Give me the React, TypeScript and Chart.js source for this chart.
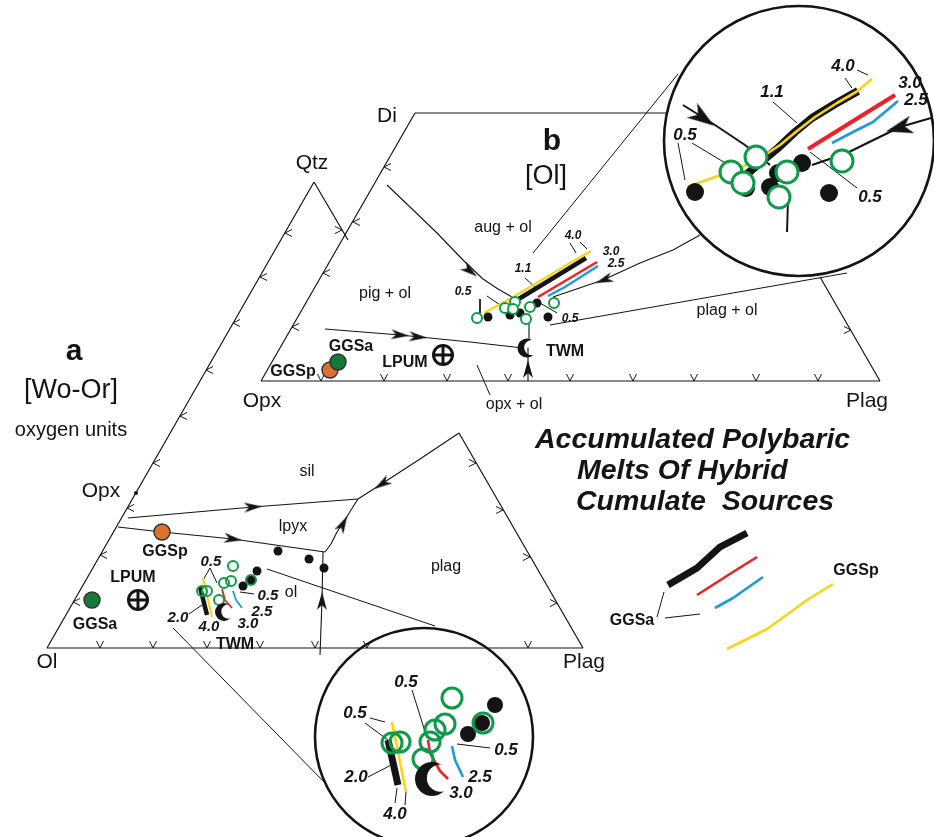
import React, { useEffect, useRef } from "react";
import { Chart, registerables } from "chart.js";

Chart.register(...registerables);

type P = [number, number];
type L = [string, number, number];
type A = [number, number, number];

// ================= Triangle a  (Ol - Plag - Qtz, [Wo-Or]) =================
const triA_left: P[] = [[314, 182], [47, 648]];
const triA_base: P[] = [[47, 648], [583, 648]];
const triA_rightUpper: P[] = [[314, 182], [348, 240]];
const triA_rightLower: P[] = [[459, 433], [583, 648]];
const triA_ticksLeft: P[] = [[285, 233], [260, 277], [233, 323], [206, 370], [180, 416], [153, 463], [127, 508], [100, 555], [73, 602]];
const triA_ticksRight: P[] = [[342, 230], [476, 463], [503, 510], [530, 557], [557, 603]];
const triA_ticksBase: P[] = [[100, 648], [153, 648], [207, 648], [260, 648], [315, 648], [367, 648], [528, 648]];

const a_silLpyx: P[] = [[128, 518], [253, 507], [358, 499]];
const a_lpyxOl: P[] = [[118, 527], [162, 532], [233, 539], [325, 552]];
const a_lpyxPlag: P[] = [[325, 552], [331, 544], [337, 532], [345, 520], [351, 510], [358, 499]];
const a_silPlag: P[] = [[358, 499], [380, 485], [420, 459], [459, 433]];
const a_olPlag: P[] = [[320, 655], [322, 600], [323, 552]];
const a_arrows: A[] = [[253, 507, -4], [233, 539, 8], [343, 524, -62], [382, 484, 147], [322, 601, -89]];
const a_calloutUpper: P[] = [[267, 569], [435, 626]];
const a_calloutLower: P[] = [[173, 628], [327, 785]];
const a_opxPoint: P[] = [[136, 493]];

const a_meltDots: P[] = [[278, 551], [309, 559], [324, 568], [257, 571], [243, 586], [251, 580]];
const a_meltRings: P[] = [[233, 566], [231, 581], [224, 583], [219, 600], [202, 591], [207, 591], [251, 580]];
const a_GGSaPath: P[] = [[200, 587], [207, 615]];
const a_GGSpPath: P[] = [[203, 578], [212, 617]];
const a_redPath: P[] = [[222, 589], [225, 600], [232, 608]];
const a_bluePath: P[] = [[233, 591], [236, 600], [242, 608]];
const a_GGSa: P[] = [[92, 600]];
const a_GGSp: P[] = [[162, 532]];
const a_LPUM: P[] = [[138, 600]];
const a_TWM: P[] = [[224, 612]];
const a_leaders: P[][] = [
  [[210, 568], [203, 580]],
  [[210, 568], [217, 583]],
  [[240, 592], [254, 594]],
  [[189, 614], [202, 605]],
];

// ================= Triangle b  (Opx - Plag - Di, [Ol]) =================
const triB_left: P[] = [[415, 113], [261, 381]];
const triB_base: P[] = [[261, 381], [880, 381]];
const triB_top: P[] = [[415, 113], [666, 113]];
const triB_right: P[] = [[820, 277], [880, 381]];
const triB_ticksLeft: P[] = [[384, 167], [353, 222], [323, 273], [292, 327]];
const triB_ticksBase: P[] = [[321, 381], [384, 381], [447, 381], [508, 381], [570, 381], [633, 381], [694, 381], [756, 381], [818, 381]];
const triB_ticksRight: P[] = [[851, 330]];

const b_augPig: P[] = [[387, 185], [410, 207], [437, 233], [463, 260], [483, 279], [498, 289], [512, 297]];
const b_pigOpx: P[] = [[325, 329], [400, 335], [470, 342], [523, 348]];
const b_twmDown: P[] = [[528, 348], [528, 381]];
const b_clusterDown: P[] = [[529, 314], [529, 340]];
const b_plagCurve: P[] = [[553, 297], [603, 280], [640, 263], [673, 250], [700, 235]];
const b_arrows: A[] = [[470, 271, 38], [400, 335, 5], [418, 337, 5], [528, 369, -90], [604, 280, 160]];
const b_calloutUpper: P[] = [[533, 253], [678, 74]];
const b_calloutLower: P[] = [[550, 325], [847, 273]];
const b_opxOlLeader: P[] = [[477, 365], [490, 395]];

const b_meltDots: P[] = [[488, 317], [510, 315], [520, 313], [537, 303], [548, 317]];
const b_meltRings: P[] = [[477, 318], [505, 308], [515, 302], [513, 309], [530, 307], [526, 319], [554, 303]];
const b_GGSpPath: P[] = [[484, 313], [515, 296], [545, 278], [570, 263], [591, 251]];
const b_GGSaPath: P[] = [[517, 300], [545, 283], [568, 269], [586, 258]];
const b_redPath: P[] = [[538, 297], [597, 262]];
const b_bluePath: P[] = [[548, 296], [565, 287], [598, 266]];
const b_GGSa: P[] = [[338, 362]];
const b_GGSp: P[] = [[330, 370]];
const b_LPUM: P[] = [[443, 355]];
const b_TWM: P[] = [[527, 348]];
const b_leaders: P[][] = [
  [[480, 299], [480, 313]],
  [[487, 296], [503, 307]],
  [[525, 278], [535, 287]],
  [[570, 243], [576, 253]],
  [[580, 242], [587, 249]],
  [[540, 303], [557, 313]],
];

// ================= Enlarged inset (top right) =================
const topInset: P[] = [[799, 141]];
const top_GGSpPath: P[] = [[687, 187], [715, 177], [742, 167], [762, 157], [780, 145], [797, 131], [815, 117], [837, 103], [856, 92], [872, 79]];
const top_GGSaPath: P[] = [[740, 180], [760, 163], [778, 148], [795, 132], [812, 118], [835, 104], [858, 91]];
const top_redPath: P[] = [[808, 149], [895, 95]];
const top_bluePath: P[] = [[832, 143], [855, 131], [873, 122], [898, 101]];
const top_cotecticLeft: P[] = [[683, 105], [715, 125], [745, 145], [770, 165]];
const top_cotecticRight: P[] = [[931, 118], [900, 127], [847, 153], [812, 165]];
const top_stem: P[] = [[788, 200], [787, 232]];
const top_arrows: A[] = [[703, 118, 35], [899, 128, 165]];
const top_meltDots: P[] = [[695, 192], [746, 188], [770, 187], [802, 163], [829, 193], [778, 173]];
const top_meltRings: P[] = [[731, 172], [756, 157], [743, 183], [787, 172], [779, 197], [842, 161]];
const top_leaders: P[][] = [
  [[678, 143], [685, 180]],
  [[692, 143], [732, 167]],
  [[773, 102], [797, 123]],
  [[845, 78], [852, 88]],
  [[857, 70], [868, 75]],
  [[810, 152], [857, 188]],
];

// ================= Enlarged inset (bottom) =================
const bottomInset: P[] = [[424, 737]];
const bot_GGSpPath: P[] = [[392, 722], [406, 792]];
const bot_GGSaPath: P[] = [[388, 740], [398, 785]];
const bot_redPath: P[] = [[428, 740], [430, 753], [440, 771], [448, 779]];
const bot_bluePath: P[] = [[452, 746], [455, 760], [463, 777]];
const bot_meltDots: P[] = [[495, 705], [482, 723], [468, 734]];
const bot_meltRings: P[] = [[392, 743], [400, 742], [430, 742], [435, 730], [445, 724], [423, 759], [452, 698], [483, 723]];
const bot_TWM: P[] = [[432, 779]];
const bot_leaders: P[][] = [
  [[370, 718], [385, 722]],
  [[365, 723], [388, 740]],
  [[412, 690], [427, 738]],
  [[457, 744], [490, 748]],
  [[368, 777], [395, 763]],
  [[397, 788], [395, 803]],
  [[406, 792], [405, 805]],
];

// ================= Key =================
const key_GGSa: P[] = [[668, 585], [697, 568], [720, 547], [747, 533]];
const key_red: P[] = [[697, 595], [733, 572], [757, 557]];
const key_blue: P[] = [[715, 608], [733, 598], [763, 577]];
const key_GGSp: P[] = [[727, 649], [767, 629], [810, 598], [833, 584]];
const key_leaders: P[][] = [
  [[657, 617], [664, 592]],
  [[665, 618], [700, 614]],
];

// ================= Text =================
const vertexLabels: L[] = [["Qtz", 312, 163], ["Di", 387, 116], ["Opx", 262, 401], ["Plag", 867, 401], ["Opx", 101, 491], ["Ol", 47, 662], ["Plag", 584, 662]];
const panelLetters: L[] = [["a", 74, 352], ["b", 552, 142]];
const panelSubtitles: L[] = [["[Wo-Or]", 71, 391], ["[Ol]", 546, 177]];
const unitsNote: L[] = [["oxygen units", 71, 430]];
const fieldLabels: L[] = [["aug + ol", 503, 228], ["pig + ol", 385, 294], ["plag + ol", 727, 311], ["opx + ol", 514, 405], ["sil", 307, 472], ["lpyx", 293, 527], ["ol", 291, 593], ["plag", 446, 567]];
const sampleLabels: L[] = [["GGSp", 293, 372], ["GGSa", 351, 347], ["LPUM", 405, 363], ["TWM", 565, 352], ["GGSa", 95, 625], ["LPUM", 133, 578], ["GGSp", 165, 552], ["TWM", 235, 645], ["GGSa", 632, 621], ["GGSp", 856, 571]];
const pressureSmall: L[] = [["0.5", 463, 292], ["1.1", 523, 269], ["4.0", 573, 236], ["3.0", 611, 252], ["2.5", 616, 264], ["0.5", 570, 319]];
const pressureMid: L[] = [["0.5", 211, 562], ["0.5", 268, 596], ["2.5", 262, 612], ["3.0", 248, 624], ["4.0", 209, 627], ["2.0", 178, 618]];
const pressureLarge: L[] = [["0.5", 685, 135], ["1.1", 772, 92], ["4.0", 843, 66], ["3.0", 910, 83], ["2.5", 916, 100], ["0.5", 870, 197], ["0.5", 355, 713], ["0.5", 406, 682], ["0.5", 506, 750], ["2.0", 356, 777], ["2.5", 480, 777], ["3.0", 461, 793], ["4.0", 395, 814]];
const titleLines: L[] = [["Accumulated Polybaric", 535, 448], ["Melts Of Hybrid", 577, 479], ["Cumulate  Sources", 576, 510]];

// ================= styles =================
const INK = "#141414";
const GREEN = "#0e9a4a";
const DARKGREEN = "#137a3a";
const ORANGE = "#dc7230";
const RED = "#ec2227";
const BLUE = "#1b9bd7";
const YELLOW = "#f6d416";
const FONT = "'Liberation Sans', Arial, Helvetica, sans-serif";

function mk(w: number, h: number): [HTMLCanvasElement, CanvasRenderingContext2D] {
  const c = document.createElement("canvas");
  c.width = w;
  c.height = h;
  return [c, c.getContext("2d")!];
}
function chevron(len: number, spread: number) {
  const s = Math.ceil(len) + 2;
  const [c, g] = mk(2 * s, 2 * s);
  g.strokeStyle = INK;
  g.lineWidth = 1;
  g.beginPath();
  g.moveTo(s - len, s - spread);
  g.lineTo(s, s);
  g.lineTo(s - len, s + spread);
  g.stroke();
  return c;
}
function arrowHead(len: number, half: number) {
  const w = len + 2, h = 2 * half + 2;
  const [c, g] = mk(w, h);
  g.fillStyle = INK;
  g.beginPath();
  g.moveTo(w - 1, h / 2);
  g.lineTo(1, 1);
  g.lineTo(1 + len * 0.28, h / 2);
  g.lineTo(1, h - 1);
  g.closePath();
  g.fill();
  return c;
}
function crescent(r: number) {
  const s = Math.ceil(r) + 2;
  const [c, g] = mk(2 * s, 2 * s);
  g.fillStyle = INK;
  g.beginPath();
  g.arc(s, s, r, 0, Math.PI * 2);
  g.fill();
  g.globalCompositeOperation = "destination-out";
  g.beginPath();
  g.arc(s + r * 0.5, s - r * 0.05, r * 0.8, 0, Math.PI * 2);
  g.fill();
  return c;
}
function circlePlus(r: number) {
  const s = Math.ceil(r) + 3;
  const [c, g] = mk(2 * s, 2 * s);
  g.strokeStyle = INK;
  g.lineWidth = 3;
  g.beginPath();
  g.arc(s, s, r - 1.5, 0, Math.PI * 2);
  g.moveTo(s - r + 1.5, s);
  g.lineTo(s + r - 1.5, s);
  g.moveTo(s, s - r + 1.5);
  g.lineTo(s, s + r - 1.5);
  g.stroke();
  return c;
}

const xy = (pts: P[]) => pts.map(([x, y]) => ({ x, y }));

function buildDatasets() {
  const ds: any[] = [];
  const line = (pts: P[], color: string, width: number, order: number) =>
    ds.push({
      data: xy(pts),
      showLine: true,
      borderColor: color,
      borderWidth: width,
      pointRadius: 0,
      fill: false,
      tension: 0,
      borderCapStyle: "butt",
      borderJoinStyle: "round",
      order,
      clip: false,
    });
  const dots = (pts: P[], radius: number, fillC: string, stroke: string, bw: number, order: number) =>
    ds.push({
      data: xy(pts),
      showLine: false,
      pointStyle: "circle",
      pointRadius: radius,
      backgroundColor: fillC,
      borderColor: stroke,
      borderWidth: bw,
      order,
      clip: false,
    });
  const marks = (pts: P[], img: HTMLCanvasElement, rot: number | number[], order: number) =>
    ds.push({
      data: xy(pts),
      showLine: false,
      pointStyle: img,
      pointRadius: 4,
      pointRotation: (c: any) => (Array.isArray(rot) ? rot[c.dataIndex] : rot),
      order,
      clip: false,
    });
  const arrows = (list: A[], img: HTMLCanvasElement, order: number) =>
    marks(list.map(([x, y]) => [x, y] as P), img, list.map((a) => a[2]), order);

  const chev = chevron(7, 3.5);
  const arrowSmall = arrowHead(18, 5);
  const arrowBig = arrowHead(27, 9);

  // inset frames
  dots(topInset, 135, "#ffffff", INK, 2.6, 60);
  dots(bottomInset, 109, "rgba(255,255,255,0)", INK, 2.6, 60);

  // triangle edges
  [triA_left, triA_base, triA_rightUpper, triA_rightLower, triB_left, triB_base, triB_top, triB_right].forEach((p) => line(p, INK, 1.2, 50));
  marks(triA_ticksLeft, chev, 180, 49);
  marks(triB_ticksLeft, chev, 180, 49);
  marks(triA_ticksRight, chev, 0, 49);
  marks(triB_ticksRight, chev, 0, 49);
  marks(triA_ticksBase, chev, 90, 49);
  marks(triB_ticksBase, chev, 90, 49);

  // cotectics & callouts
  [a_silLpyx, a_lpyxOl, a_lpyxPlag, a_silPlag, a_olPlag, b_augPig, b_pigOpx, b_twmDown, b_clusterDown, b_plagCurve].forEach((p) => line(p, INK, 1.1, 40));
  [a_calloutUpper, a_calloutLower, b_calloutUpper, b_calloutLower, b_opxOlLeader].forEach((p) => line(p, INK, 1, 40));
  [top_cotecticLeft, top_cotecticRight, top_stem].forEach((p) => line(p, INK, 2, 40));
  [...a_leaders, ...b_leaders, ...top_leaders, ...bot_leaders, ...key_leaders].forEach((p) => line(p, INK, 1, 40));
  arrows(a_arrows, arrowSmall, 3);
  arrows(b_arrows, arrowSmall, 3);
  arrows(top_arrows, arrowBig, 3);
  dots(a_opxPoint, 2, INK, INK, 0, 3);

  // melt paths
  line(a_GGSaPath, INK, 4.5, 20);
  line(b_GGSaPath, INK, 4.5, 20);
  line(top_GGSaPath, INK, 8, 20);
  line(bot_GGSaPath, INK, 7, 20);
  line(key_GGSa, INK, 7, 20);
  line(a_GGSpPath, YELLOW, 2, 19);
  line(b_GGSpPath, YELLOW, 2.2, 19);
  line(top_GGSpPath, YELLOW, 2.6, 19);
  line(bot_GGSpPath, YELLOW, 2.6, 19);
  line(key_GGSp, YELLOW, 2.6, 19);
  line(a_redPath, RED, 1.8, 19);
  line(b_redPath, RED, 2.5, 19);
  line(top_redPath, RED, 4, 19);
  line(bot_redPath, RED, 2.6, 19);
  line(key_red, RED, 2.6, 19);
  line(a_bluePath, BLUE, 1.8, 19);
  line(b_bluePath, BLUE, 2.3, 19);
  line(top_bluePath, BLUE, 2.6, 19);
  line(bot_bluePath, BLUE, 2.6, 19);
  line(key_blue, BLUE, 2.6, 19);

  // melts
  dots(a_meltDots, 4.5, INK, INK, 0, 10);
  dots(b_meltDots, 4.5, INK, INK, 0, 10);
  dots(top_meltDots, 9, INK, INK, 0, 10);
  dots(bot_meltDots, 8, INK, INK, 0, 10);
  dots(a_meltRings, 5, "rgba(255,255,255,0)", GREEN, 2, 9);
  dots(b_meltRings, 5, "#ffffff", GREEN, 2, 9);
  dots(top_meltRings, 11, "#ffffff", GREEN, 3, 9);
  dots(bot_meltRings, 10, "rgba(255,255,255,0)", GREEN, 3, 9);

  // sources
  dots(a_GGSp, 8, ORANGE, "#333", 1.5, 6);
  dots(b_GGSp, 8, ORANGE, "#333", 1.5, 6);
  dots(a_GGSa, 8, DARKGREEN, "#333", 1.5, 5);
  dots(b_GGSa, 8, DARKGREEN, "#333", 1.5, 5);
  const plus = circlePlus(11);
  marks(a_LPUM, plus, 0, 5);
  marks(b_LPUM, plus, 0, 5);
  marks(a_TWM, crescent(9), 0, 5);
  marks(b_TWM, crescent(9.5), 0, 5);
  marks(bot_TWM, crescent(17), 0, 5);
  return ds;
}

const textGroups: { items: L[]; font: string; baseline: CanvasTextBaseline; align: CanvasTextAlign }[] = [
  { items: vertexLabels, font: `21px ${FONT}`, baseline: "middle", align: "center" },
  { items: panelLetters, font: `bold 30px ${FONT}`, baseline: "middle", align: "center" },
  { items: panelSubtitles, font: `27px ${FONT}`, baseline: "middle", align: "center" },
  { items: unitsNote, font: `20px ${FONT}`, baseline: "middle", align: "center" },
  { items: fieldLabels, font: `16px ${FONT}`, baseline: "middle", align: "center" },
  { items: sampleLabels, font: `bold 16px ${FONT}`, baseline: "middle", align: "center" },
  { items: pressureSmall, font: `italic bold 12px ${FONT}`, baseline: "middle", align: "center" },
  { items: pressureMid, font: `italic bold 15px ${FONT}`, baseline: "middle", align: "center" },
  { items: pressureLarge, font: `italic bold 17px ${FONT}`, baseline: "middle", align: "center" },
  { items: titleLines, font: `italic bold 28.5px ${FONT}`, baseline: "alphabetic", align: "left" },
];

const textPlugin = {
  id: "diagramText",
  afterDatasetsDraw(chart: any) {
    const { ctx } = chart;
    const sx = chart.scales.x;
    const sy = chart.scales.y;
    ctx.save();
    ctx.fillStyle = INK;
    for (const g of textGroups) {
      ctx.font = g.font;
      ctx.textAlign = g.align;
      ctx.textBaseline = g.baseline;
      for (const [t, x, y] of g.items) ctx.fillText(t, sx.getPixelForValue(x), sy.getPixelForValue(y));
    }
    ctx.restore();
  },
};

export default function App() {
  const ref = useRef<HTMLCanvasElement>(null);
  useEffect(() => {
    if (!ref.current) return;
    const chart = new Chart(ref.current, {
      type: "scatter",
      data: { datasets: buildDatasets() },
      options: {
        animation: false,
        responsive: false,
        maintainAspectRatio: false,
        devicePixelRatio: 1,
        events: [],
        layout: { padding: 0, autoPadding: false },
        plugins: { legend: { display: false }, tooltip: { enabled: false }, title: { display: false } },
        scales: {
          x: { type: "linear", min: 0, max: 934, display: false },
          y: { type: "linear", min: 0, max: 837, reverse: true, display: false },
        },
      },
      plugins: [textPlugin],
    } as any);
    return () => chart.destroy();
  }, []);
  return (
    <div style={{ position: "fixed", left: 0, top: 0, width: 934, height: 837, background: "#ffffff" }}>
      <canvas ref={ref} width={934} height={837} style={{ display: "block", width: 934, height: 837 }} />
    </div>
  );
}
